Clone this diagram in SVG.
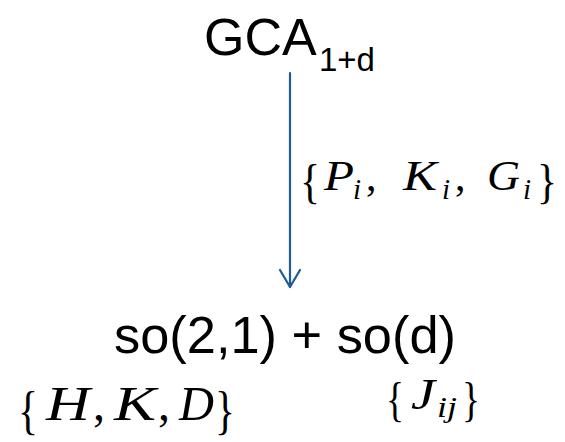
<svg xmlns="http://www.w3.org/2000/svg" width="565" height="442" viewBox="0 0 565 442">
<style>
.sans{font-family:"Liberation Sans",Arial,sans-serif;fill:#000}
.m{font-family:"Liberation Serif","Times New Roman",serif;fill:#000}
.it{font-style:italic}
.conn{stroke:#1f5a9a;stroke-width:2.2;fill:none;stroke-linecap:round;stroke-linejoin:round}
</style>
<g id="node-gca">
<text class="sans" x="204" y="55" font-size="52">GCA</text>
<text class="sans" x="319" y="71" font-size="33">1+d</text>
</g>
<g id="node-so">
<text class="sans" x="114" y="353" font-size="52" textLength="342" lengthAdjust="spacingAndGlyphs">so(2,1) + so(d)</text>
</g>
<g id="connectors">
<line class="conn" x1="290" y1="73" x2="290" y2="287"/>
<polyline class="conn" points="280,270 290,287 300,270"/>
</g>
<g id="label-generators">
<text class="m" x="300" y="198" font-size="48" textLength="20" lengthAdjust="spacingAndGlyphs">{</text>
<text class="m it" x="324" y="190" font-size="42" textLength="30" lengthAdjust="spacingAndGlyphs">P</text>
<text class="m it" x="353" y="199" font-size="29">i</text>
<text class="m" x="366" y="190" font-size="42">,</text>
<text class="m it" x="403" y="190" font-size="42" textLength="34" lengthAdjust="spacingAndGlyphs">K</text>
<text class="m it" x="442" y="199" font-size="29">i</text>
<text class="m" x="455" y="190" font-size="42">,</text>
<text class="m it" x="487" y="190" font-size="42" textLength="33" lengthAdjust="spacingAndGlyphs">G</text>
<text class="m it" x="523" y="199" font-size="29">i</text>
<text class="m" x="537" y="198" font-size="48" textLength="20" lengthAdjust="spacingAndGlyphs">}</text>
</g>
<g id="label-hkd">
<text class="m" x="18" y="428" font-size="52" textLength="20" lengthAdjust="spacingAndGlyphs">{</text>
<text class="m it" x="46" y="420" font-size="48" textLength="44" lengthAdjust="spacingAndGlyphs">H</text>
<text class="m" x="93" y="420" font-size="48">,</text>
<text class="m it" x="114" y="420" font-size="48" textLength="42" lengthAdjust="spacingAndGlyphs">K</text>
<text class="m" x="158" y="420" font-size="48">,</text>
<text class="m it" x="179" y="420" font-size="48" textLength="35" lengthAdjust="spacingAndGlyphs">D</text>
<text class="m" x="215" y="428" font-size="52" textLength="20" lengthAdjust="spacingAndGlyphs">}</text>
</g>
<g id="label-jij">
<text class="m" x="386" y="416" font-size="48" textLength="18" lengthAdjust="spacingAndGlyphs">{</text>
<text class="m it" x="411" y="409" font-size="44" textLength="24" lengthAdjust="spacingAndGlyphs">J</text>
<text class="m it" x="437" y="417" font-size="29" textLength="20" lengthAdjust="spacingAndGlyphs">ij</text>
<text class="m" x="462" y="416" font-size="48" textLength="18" lengthAdjust="spacingAndGlyphs">}</text>
</g>
</svg>
